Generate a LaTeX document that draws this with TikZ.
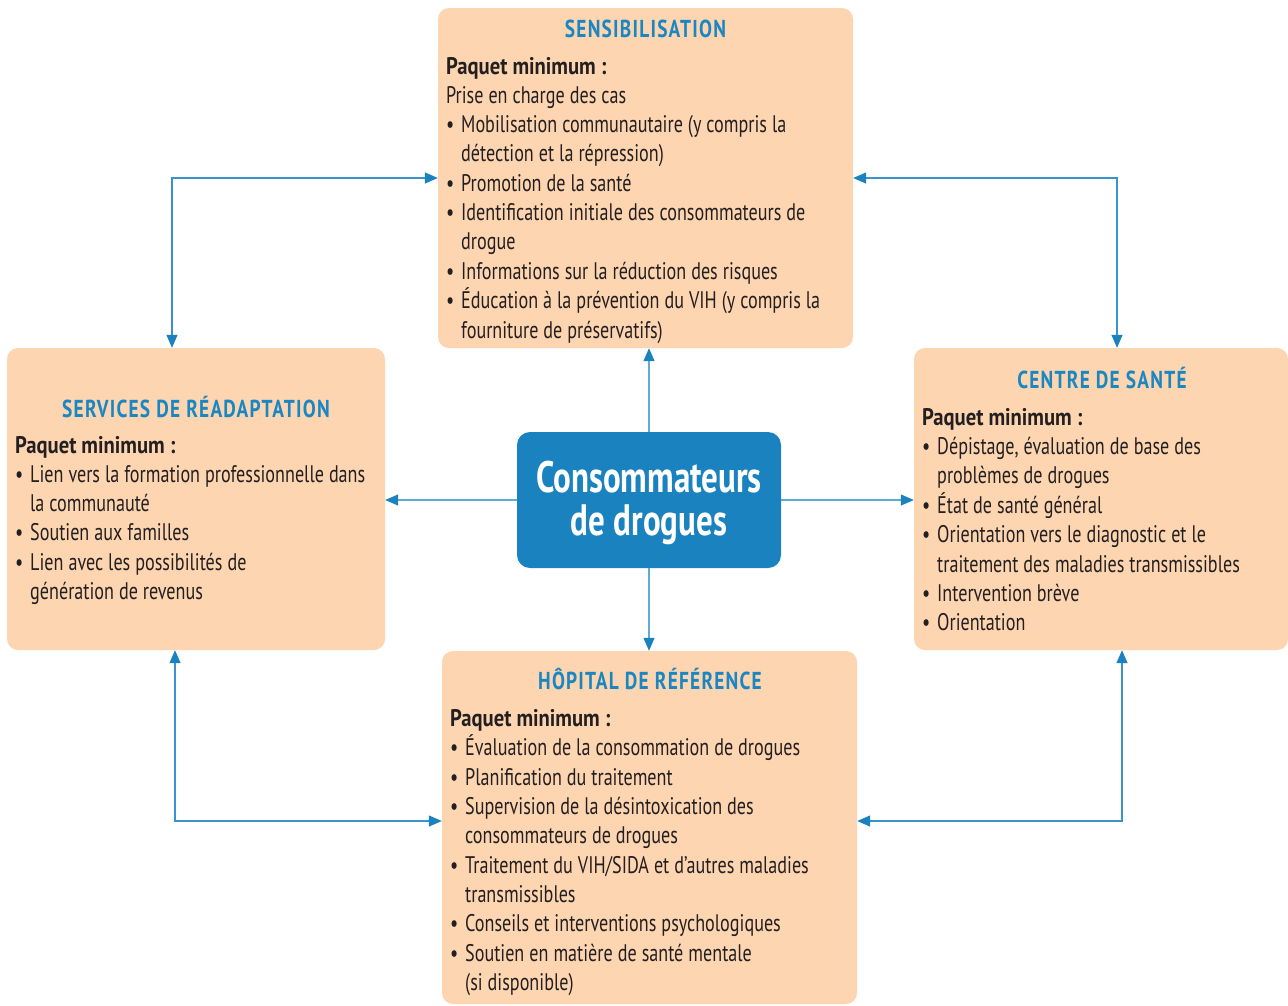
\documentclass[tikz,border=0pt]{standalone}
\usepackage{fontspec}
\setmainfont{PT Sans}[FakeStretch=0.755]
\newfontfamily\titlefont{PT Sans}[FakeStretch=0.79,LetterSpace=5]
\newfontfamily\boldfont{PT Sans}[FakeStretch=0.86]
\newfontfamily\centfont{PT Sans}[FakeStretch=0.75]
\usetikzlibrary{arrows.meta}
\definecolor{peach}{HTML}{FDD5B1}
\definecolor{tblue}{HTML}{1A86C2}
\definecolor{cblue}{HTML}{1A82BE}
\definecolor{lblue}{HTML}{3A93CC}
\definecolor{txt}{HTML}{231F20}
\newcommand\bodyf{\fontsize{24}{29.33}\selectfont\spaceskip=5pt plus 1pt minus 1pt\color{txt}}
\newcommand\pmin{\multicolumn{2}{@{}l}{{\boldfont\bfseries Paquet minimum :}}}
\newcommand\bl{\textbullet}
\begin{document}
\begin{tikzpicture}[x=1pt,y=-1pt,
  pbox/.style={draw=none,fill=peach,rounded corners=11pt,inner sep=0pt},
  ttl/.style={anchor=base,inner sep=0pt,text=tblue,font=\fontsize{24.5}{26}\titlefont\bfseries},
  body/.style={anchor=base west,inner sep=0pt,font=\bodyf},
  conn/.style={draw=lblue,line width=1.3pt,
    {Triangle[length=13pt,width=11pt,fill=cblue,color=cblue]}-{Triangle[length=13pt,width=11pt,fill=cblue,color=cblue]}},
  oneway/.style={draw=lblue!80,line width=1.2pt,
    -{Triangle[length=13pt,width=11pt,fill=cblue,color=cblue]}}]
\useasboundingbox (0,0) rectangle (1288,1005);
\fill[white] (0,0) rectangle (1288,1005);

% boxes
\node[pbox,minimum width=415pt,minimum height=340pt] (top) at (645.5,178) {};
\node[pbox,minimum width=378pt,minimum height=302pt] (left) at (196,499) {};
\node[pbox,minimum width=374pt,minimum height=302pt] (right) at (1101,499) {};
\node[pbox,minimum width=415pt,minimum height=353pt] (bot) at (649.5,827.5) {};

% titles
\node[ttl] (topttl) at (645.5,37) {SENSIBILISATION};
\node[ttl] (leftttl) at (196,417) {SERVICES DE RÉADAPTATION};
\node[ttl] (rightttl) at (1102,388) {CENTRE DE SANTÉ};
\node[ttl] (botttl) at (650,689) {HÔPITAL DE RÉFÉRENCE};

% bodies
\node[body] (toptxt) at (446,74) {%
\begin{tabular}[t]{@{}p{9pt}@{\hspace{6pt}}l@{}}
\pmin\\
\multicolumn{2}{@{}l}{Prise en charge des cas}\\
\bl & Mobilisation communautaire (y compris la\\
 & détection et la répression)\\
\bl & Promotion de la santé\\
\bl & Identification initiale des consommateurs de\\
 & drogue\\
\bl & Informations sur la réduction des risques\\
\bl & Éducation à la prévention du VIH (y compris la\\
 & fourniture de préservatifs)
\end{tabular}};

\node[body] (lefttxt) at (15,453) {%
\begin{tabular}[t]{@{}p{9pt}@{\hspace{6pt}}l@{}}
\pmin\\
\bl & Lien vers la formation professionnelle dans\\
 & la communauté\\
\bl & Soutien aux familles\\
\bl & Lien avec les possibilités de\\
 & génération de revenus
\end{tabular}};

\node[body] (righttxt) at (922,425) {%
\begin{tabular}[t]{@{}p{9pt}@{\hspace{6pt}}l@{}}
\pmin\\
\bl & Dépistage, évaluation de base des\\
 & problèmes de drogues\\
\bl & État de santé général\\
\bl & Orientation vers le diagnostic et le\\
 & traitement des maladies transmissibles\\
\bl & Intervention brève\\
\bl & Orientation
\end{tabular}};

\node[body] (bottxt) at (450,726) {%
\begin{tabular}[t]{@{}p{9pt}@{\hspace{6pt}}l@{}}
\pmin\\
\bl & Évaluation de la consommation de drogues\\
\bl & Planification du traitement\\
\bl & Supervision de la désintoxication des\\
 & consommateurs de drogues\\
\bl & Traitement du VIH/SIDA et d’autres maladies\\
 & transmissibles\\
\bl & Conseils et interventions psychologiques\\
\bl & Soutien en matière de santé mentale\\
 & (si disponible)
\end{tabular}};

% center
\node[fill=cblue,rounded corners=13pt,minimum width=264pt,minimum height=136pt,inner sep=0pt] (c) at (649,500) {};
\node[align=center,text=white,font=\fontsize{44}{42.5}\centfont\bfseries,inner sep=0pt] (ct) at ([yshift=-3pt]c.center)
  {Consommateurs\\de drogues};

% center connectors
\draw[oneway] (c.north) -- (c.north |- top.south);
\draw[oneway] (c.south) -- (c.south |- bot.north);
\draw[oneway] (c.west) -- (left.east |- c.west);
\draw[oneway] (c.east) -- (right.west |- c.east);

% elbow connectors
\draw[conn] (top.west) -| ([xshift=-24pt]left.north);
\draw[conn] (top.east) -| ([xshift=16pt]right.north);
\draw[conn] ([xshift=-21pt]left.south) |- ([yshift=6.5pt]bot.west);
\draw[conn] ([xshift=21pt]right.south) |- ([yshift=6.5pt]bot.east);
\end{tikzpicture}
\end{document}
